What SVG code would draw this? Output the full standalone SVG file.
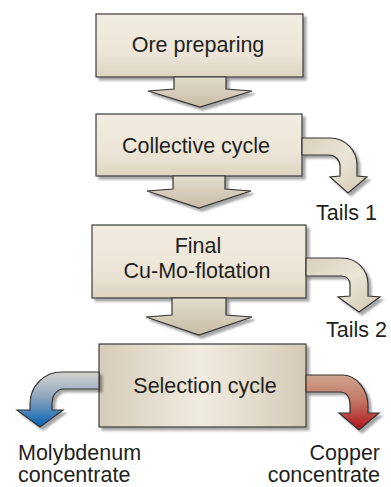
<svg xmlns="http://www.w3.org/2000/svg" width="391" height="487" viewBox="0 0 391 487">
  <defs>
    <filter id="sh" x="-10%" y="-10%" width="130%" height="130%">
      <feDropShadow dx="3" dy="3" stdDeviation="1" flood-color="#000" flood-opacity="0.35"/>
    </filter>
    <linearGradient id="boxV" x1="0" y1="0" x2="0" y2="1">
      <stop offset="0" stop-color="#f2ede2"/>
      <stop offset="0.6" stop-color="#ede6d8"/>
      <stop offset="1" stop-color="#ddd4c1"/>
    </linearGradient>
    <linearGradient id="boxH" x1="0" y1="0" x2="1" y2="0">
      <stop offset="0" stop-color="#d6ccb9"/>
      <stop offset="0.5" stop-color="#f1ece1"/>
      <stop offset="1" stop-color="#d4cab6"/>
    </linearGradient>
    <linearGradient id="arrV" x1="0" y1="0" x2="0" y2="1">
      <stop offset="0" stop-color="#e3dccc"/>
      <stop offset="1" stop-color="#c8bda7"/>
    </linearGradient>
    <linearGradient id="tailG" x1="0" y1="0" x2="1" y2="1">
      <stop offset="0" stop-color="#d9d0bd"/>
      <stop offset="0.5" stop-color="#ebe5d7"/>
      <stop offset="1" stop-color="#d2c8b3"/>
    </linearGradient>
    <linearGradient id="blueG" x1="0" y1="0" x2="0" y2="1">
      <stop offset="0" stop-color="#d6d4cf"/>
      <stop offset="0.45" stop-color="#8fa6bf"/>
      <stop offset="1" stop-color="#0061b5"/>
    </linearGradient>
    <linearGradient id="redG" x1="0" y1="0" x2="0" y2="1">
      <stop offset="0" stop-color="#cfa48f"/>
      <stop offset="0.45" stop-color="#c27a66"/>
      <stop offset="1" stop-color="#b0121a"/>
    </linearGradient>
    <style>
      .box { stroke: #3b3b3b; stroke-width: 1.2; filter: url(#sh); }
      .arr { stroke: #333; stroke-width: 1.2; stroke-linejoin: miter; filter: url(#sh); }
      text { font-family: "Liberation Sans", Arial, sans-serif; font-size: 21.5px; fill: #231f20; }
      .c { text-anchor: middle; }
      .r { text-anchor: end; }
    </style>
  </defs>

  <g id="node-ore">
    <rect class="box" x="96" y="14" width="207" height="63" fill="url(#boxV)"/>
    <text class="c" x="198" y="52">Ore preparing</text>
  </g>
  <g id="node-collective">
    <rect class="box" x="96" y="114" width="206" height="62" fill="url(#boxV)"/>
    <text class="c" x="196" y="153">Collective cycle</text>
  </g>
  <g id="node-final">
    <rect class="box" x="92" y="225" width="214" height="73" fill="url(#boxV)"/>
    <text class="c" x="198" y="253">Final</text>
    <text class="c" x="197" y="278">Cu-Mo-flotation</text>
  </g>
  <g id="node-selection">
    <rect class="box" x="99" y="344" width="207" height="83" fill="url(#boxH)"/>
    <text class="c" x="205" y="393">Selection cycle</text>
  </g>

  <g id="connectors">
    <path class="arr" fill="url(#arrV)" d="M174 77 L174 89 L148 91 L200 107 L252 91 L226 89 L226 77 Z"/>
    <path class="arr" fill="url(#arrV)" d="M173 176 L173 189 L147 191 L199 208 L251 191 L225 189 L225 176 Z"/>
    <path class="arr" fill="url(#arrV)" d="M172 298 L172 315 L146 317 L199 335 L252 317 L226 315 L226 298 Z"/>
    <path class="arr" fill="url(#tailG)" d="M302 138 L330 138 A27 27 0 0 1 357 165 L357 176 L367 177 L348 193 L330 177 L340 176 L340 166 A11 11 0 0 0 329 155 L302 155 Z"/>
    <path class="arr" fill="url(#tailG)" d="M306 258 L342 258 A26 26 0 0 1 368 284 L368 296 L380 297 L359 312 L338 297 L350 296 L350 284 A8 8 0 0 0 342 276 L306 276 Z"/>
    <path class="arr" fill="url(#blueG)" d="M99 372 L62 372 C44 372 30 386 30 404 L30 410 L17 410 L40 427 L63 410 L52 410 L52 404 C52 396 56 389 64 389 L99 389 Z"/>
    <path class="arr" fill="url(#redG)" d="M306 375 L342 375 C357 375 368 390 368 406 L368 413 L379 413 L359 430 L339 413 L350 413 L350 406 C350 397 347 392 340 392 L306 392 Z"/>
  </g>

  <g id="labels">
    <text class="r" x="377" y="220">Tails 1</text>
    <text class="r" x="387" y="337">Tails 2</text>
    <text x="18" y="460">Molybdenum</text>
    <text x="18" y="482">concentrate</text>
    <text class="r" x="380" y="460">Copper</text>
    <text class="r" x="380" y="482">concentrate</text>
  </g>
</svg>
